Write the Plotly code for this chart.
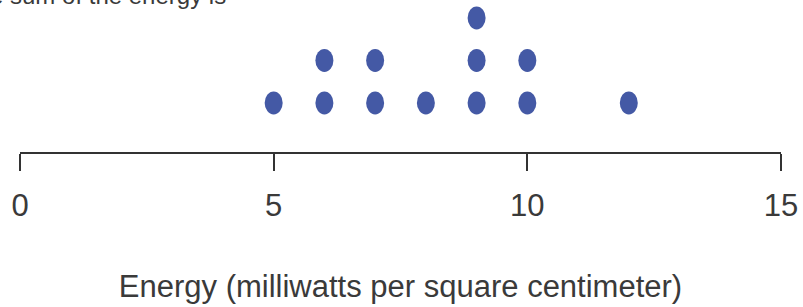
import plotly.graph_objects as go

energy = [5, 6, 6, 7, 7, 8, 9, 9, 9, 10, 10, 12]
tick_vals = [0, 5, 10, 15]
tick_text = ["0", "5", "10", "15"]
axis_title = "Energy (milliwatts per square centimeter)"
top_text = "The sum of the energy is"

# stack count for each dot
stack = []
seen = {}
for v in energy:
    seen[v] = seen.get(v, 0) + 1
    stack.append(seen[v])

dot_color = "#4459A5"
text_color = "#3a3a3a"
fs = 31

fig = go.Figure()
fig.add_trace(go.Scatter(x=energy, y=stack, mode="markers",
                         marker=dict(size=1, opacity=0), hoverinfo="x"))

for xv, yv in zip(energy, stack):
    fig.add_shape(type="circle", xref="x", yref="y",
                  xsizemode="pixel", ysizemode="pixel",
                  xanchor=xv, yanchor=yv,
                  x0=-9, x1=9, y0=-11.5, y1=11.5,
                  fillcolor=dot_color, line=dict(width=0))

fig.add_annotation(text=top_text, xref="paper", yref="paper",
                   x=(228 - 20) / 761, y=1 - 11 / 152,
                   xanchor="right", yanchor="bottom", showarrow=False,
                   font=dict(size=24, color=text_color))

fig.update_layout(
    width=803, height=307,
    margin=dict(l=20, r=22, t=0, b=155, autoexpand=False),
    plot_bgcolor="white", paper_bgcolor="white",
    showlegend=False,
    font=dict(family="Liberation Sans, Arial", color=text_color),
    xaxis=dict(range=[0, 15], tickvals=tick_vals, ticktext=tick_text,
               automargin=False,
               showline=True, linecolor="#333333", linewidth=2,
               ticks="outside", ticklen=17, tickwidth=2, tickcolor="#333333",
               showgrid=False, zeroline=False,
               tickfont=dict(size=fs, color=text_color),
               ticklabelstandoff=8,
               title=dict(text=axis_title, font=dict(size=fs, color=text_color),
                          standoff=53)),
    yaxis=dict(range=[-0.153, 3.423], visible=False, fixedrange=True,
               automargin=False),
)

fig.write_html(
    "out.html",
    config={"displayModeBar": False},
    post_script="document.body.style.margin='0';document.body.style.overflow='hidden';",
)
